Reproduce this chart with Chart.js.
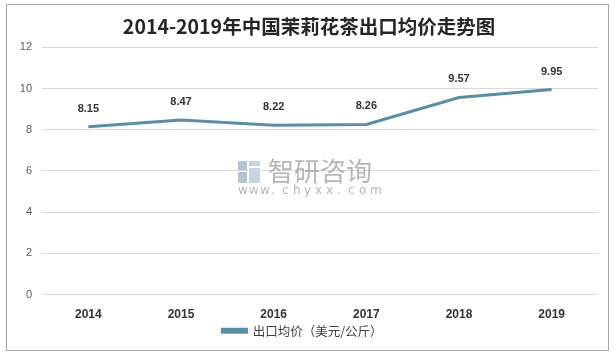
<!DOCTYPE html>
<html>
<head>
<meta charset="utf-8">
<script src="https://cdn.jsdelivr.net/npm/chart.js@4/dist/chart.umd.min.js"></script>
<style>
html,body{margin:0;padding:0;background:#fff;}
#wrap{width:615px;height:356px;position:relative;}
</style>
</head>
<body>
<div id="wrap"><canvas id="c" width="615" height="356"></canvas></div>
<script>
const categories = ['2014','2015','2016','2017','2018','2019'];
const priceValues = [8.15, 8.47, 8.22, 8.26, 9.57, 9.95];
const yTicks = [0, 2, 4, 6, 8, 10, 12];
const seriesName = '出口均价（美元/公斤）';
const titleText = '2014-2019年中国茉莉花茶出口均价走势图';

const LINE = '#5b8ea2';

const frame = {
  id: 'frame',
  beforeDraw(chart) {
    const ctx = chart.ctx;
    ctx.save();
    ctx.fillStyle = '#fff';
    ctx.fillRect(0, 0, chart.width, chart.height);
    ctx.strokeStyle = '#a6a6a6';
    ctx.lineWidth = 1;
    ctx.strokeRect(6.5, 4.5, 602, 346);
    ctx.restore();
  }
};

// nudge the legend and title boxes to match the reference layout
const placeBoxes = {
  id: 'placeBoxes',
  afterLayout(chart) {
    const l = chart.legend;
    const dy = 324.5 - l.top;
    l.top += dy; l.bottom += dy;
    const t = chart.titleBlock;
    t.left += 6.5; t.right += 6.5;
  }
};

const watermark = {
  id: 'watermark',
  beforeDatasetsDraw(chart) {
    const ctx = chart.ctx;
    ctx.save();
    ctx.fillStyle = '#b4c3d6';
    ctx.fillRect(238, 161, 9, 9);
    ctx.fillRect(238, 172, 9, 11);
    ctx.fillStyle = '#c9d3e0';
    ctx.fillRect(249, 161, 11, 5);
    ctx.fillRect(249, 168, 11, 15);
    ctx.fillStyle = '#9e9e9e';
    ctx.globalAlpha = 0.75;
    ctx.font = '26px "Noto Sans CJK SC"';
    ctx.textBaseline = 'middle';
    ctx.textAlign = 'left';
    ctx.fillText('智研咨询', 268, 171);
    ctx.font = '12px "DejaVu Sans"';
    const s = 'www.chyxx.com';
    let x = 238;
    for (const ch of s) { ctx.fillText(ch, x, 191); x += 11; }
    ctx.restore();
  }
};

const dataLabels = {
  id: 'dataLabels',
  afterDatasetsDraw(chart) {
    const ctx = chart.ctx;
    const meta = chart.getDatasetMeta(0);
    ctx.save();
    ctx.font = 'bold 11px "Liberation Sans", "DejaVu Sans"';
    ctx.fillStyle = '#333333';
    ctx.textAlign = 'center';
    ctx.textBaseline = 'middle';
    meta.data.forEach((pt, i) => {
      ctx.fillText(priceValues[i].toFixed(2), pt.x, pt.y - 18);
    });
    ctx.restore();
  }
};

new Chart(document.getElementById('c'), {
  type: 'line',
  data: {
    labels: categories,
    datasets: [{
      label: seriesName,
      data: priceValues,
      borderColor: LINE,
      backgroundColor: LINE,
      borderWidth: 3,
      pointRadius: 0,
      pointHoverRadius: 0,
      tension: 0,
      fill: false
    }]
  },
  options: {
    responsive: false,
    animation: false,
    events: [],
    layout: { padding: { left: 7, right: 17, top: 15, bottom: -1.4 } },
    plugins: {
      title: {
        display: true,
        text: titleText,
        color: '#262626',
        font: { family: '"Noto Sans CJK SC"', size: 19.5, weight: 'bold' },
        padding: { top: 0, bottom: 9 }
      },
      legend: {
        display: true,
        position: 'bottom',
        labels: {
          boxWidth: 24,
          boxHeight: 3,
          padding: 0,
          color: '#404040',
          font: { family: '"Noto Sans CJK SC"', size: 12.5 }
        }
      },
      tooltip: { enabled: false }
    },
    scales: {
      x: {
        offset: true,
        grid: { display: false, drawTicks: false },
        border: { display: false },
        ticks: {
          color: '#333333',
          padding: 13,
          font: { family: '"Liberation Sans", "DejaVu Sans"', size: 12, weight: 'bold' }
        }
      },
      y: {
        min: 0,
        max: 12,
        afterFit(scale) { scale.width = 35; },
        afterBuildTicks(scale) { scale.ticks = yTicks.map(v => ({ value: v })); },
        grid: { color: '#d9d9d9', drawTicks: false, lineWidth: 1 },
        border: { display: false },
        ticks: {
          color: '#595959',
          padding: 10,
          font: { family: '"Liberation Sans", "DejaVu Sans"', size: 11 }
        }
      }
    }
  },
  plugins: [frame, placeBoxes, watermark, dataLabels]
});
</script>
</body>
</html>
